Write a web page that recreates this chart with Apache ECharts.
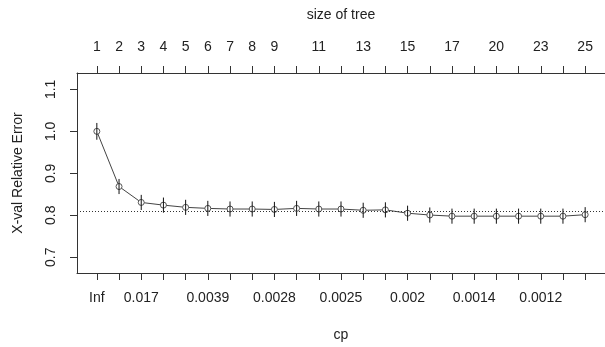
<!DOCTYPE html>
<html>
<head>
<meta charset="utf-8">
<script src="https://cdn.jsdelivr.net/npm/echarts@6/dist/echarts.min.js"></script>
<style>
  html, body { margin: 0; padding: 0; background: #fff; }
  #chart { width: 605px; height: 347px; }
</style>
</head>
<body>
<div id="chart"></div>
<script>
// tree sizes for each of the 23 cp steps
const treeSizes = ["1", "2", "3", "4", "5", "6", "7", "8", "9", "10", "11", "12", "13", "14", "15", "16", "17", "19", "20", "22", "23", "24", "25"];
// which size labels R managed to print on the top axis
const sizeShown = [0, 1, 2, 3, 4, 5, 6, 7, 8, 10, 12, 14, 16, 18, 20, 22];
// cp labels printed on the bottom axis
const cpShown = [0, 2, 5, 8, 11, 14, 17, 20];
const cpLabels = ["Inf", "0.017", "0.0039", "0.0028", "0.0025", "0.002", "0.0014", "0.0012"];

// cross-validated relative error and its standard error
const xerror = [1.000, 0.8686, 0.8307, 0.8243, 0.819, 0.8165, 0.815, 0.815, 0.814, 0.8165, 0.815, 0.815,
                0.812, 0.813, 0.805, 0.8007, 0.798, 0.798, 0.798, 0.798, 0.798, 0.798, 0.8015];
const xstd = [0.020, 0.018, 0.018, 0.018, 0.018, 0.018, 0.018, 0.018, 0.018, 0.018, 0.018, 0.018,
              0.018, 0.018, 0.018, 0.018, 0.018, 0.018, 0.018, 0.018, 0.018, 0.018, 0.018];
const yTicks = [0.7, 0.8, 0.9, 1.0, 1.1];
const threshold = 0.815;

const idx = xerror.map((_, i) => i);
const points = xerror.map((v, i) => [i, v]);
const bars = xerror.map((v, i) => [i, v - xstd[i], v + xstd[i]]);

const chart = echarts.init(document.getElementById("chart"));

const ink = "#222";
const lineCol = "#333";
const font = "Liberation Sans, Arial, sans-serif";

const xBase = {
  type: "value",
  min: -0.894,
  max: 22.894,
  splitLine: { show: false },
  axisLine: { show: true, onZero: false, lineStyle: { color: lineCol, width: 1 } },
  axisTick: { show: true, inside: false, length: 7, customValues: idx, lineStyle: { color: lineCol } },
  nameLocation: "middle",
  nameTextStyle: { color: ink, fontSize: 14, fontFamily: font },
};

const options = {
  animation: false,
  backgroundColor: "#ffffff",
  grid: { left: 77, top: 73, right: -4, bottom: 71 },
  xAxis: [
    Object.assign({}, xBase, {
      position: "bottom",
      name: "cp",
      nameGap: 55,
      axisLabel: {
        customValues: cpShown,
        margin: 18,
        color: ink,
        fontSize: 14,
        fontFamily: font,
        formatter: (v) => cpLabels[cpShown.indexOf(Math.round(v))],
      },
    }),
    Object.assign({}, xBase, {
      position: "top",
      name: "size of tree",
      nameGap: 51,
      axisLabel: {
        customValues: sizeShown,
        margin: 19,
        color: ink,
        fontSize: 14,
        fontFamily: font,
        formatter: (v) => treeSizes[Math.round(v)],
      },
    }),
  ],
  yAxis: {
    type: "value",
    min: 0.6626,
    max: 1.139,
    splitLine: { show: false },
    axisLine: { show: true, onZero: false, lineStyle: { color: lineCol, width: 1 } },
    axisTick: { show: true, inside: false, length: 7, customValues: yTicks, lineStyle: { color: lineCol } },
    axisLabel: {
      customValues: yTicks,
      rotate: 90,
      margin: 19,
      color: ink,
      fontSize: 14,
      fontFamily: font,
      formatter: (v) => v.toFixed(1),
    },
    name: "X-val Relative Error",
    nameLocation: "middle",
    nameGap: 52,
    nameTextStyle: { color: ink, fontSize: 14, fontFamily: font },
  },
  series: [
    {
      type: "line",
      data: points,
      symbol: "circle",
      symbolSize: 6,
      showSymbol: true,
      showAllSymbol: true,
      lineStyle: { color: "#444", width: 1 },
      itemStyle: { color: "#fff", borderColor: "#555", borderWidth: 1 },
      markLine: {
        silent: true,
        symbol: "none",
        label: { show: false },
        lineStyle: { color: lineCol, type: [1, 2], width: 1 },
        data: [{ yAxis: threshold }],
      },
      z: 3,
    },
    {
      type: "custom",
      data: bars,
      renderItem: (params, api) => {
        const top = api.coord([api.value(0), api.value(2)]);
        const bot = api.coord([api.value(0), api.value(1)]);
        return {
          type: "line",
          shape: { x1: top[0], y1: top[1], x2: bot[0], y2: bot[1] },
          style: { stroke: "#111", lineWidth: 1 },
        };
      },
      z: 4,
    },
  ],
};

chart.setOption(options);
</script>
</body>
</html>
